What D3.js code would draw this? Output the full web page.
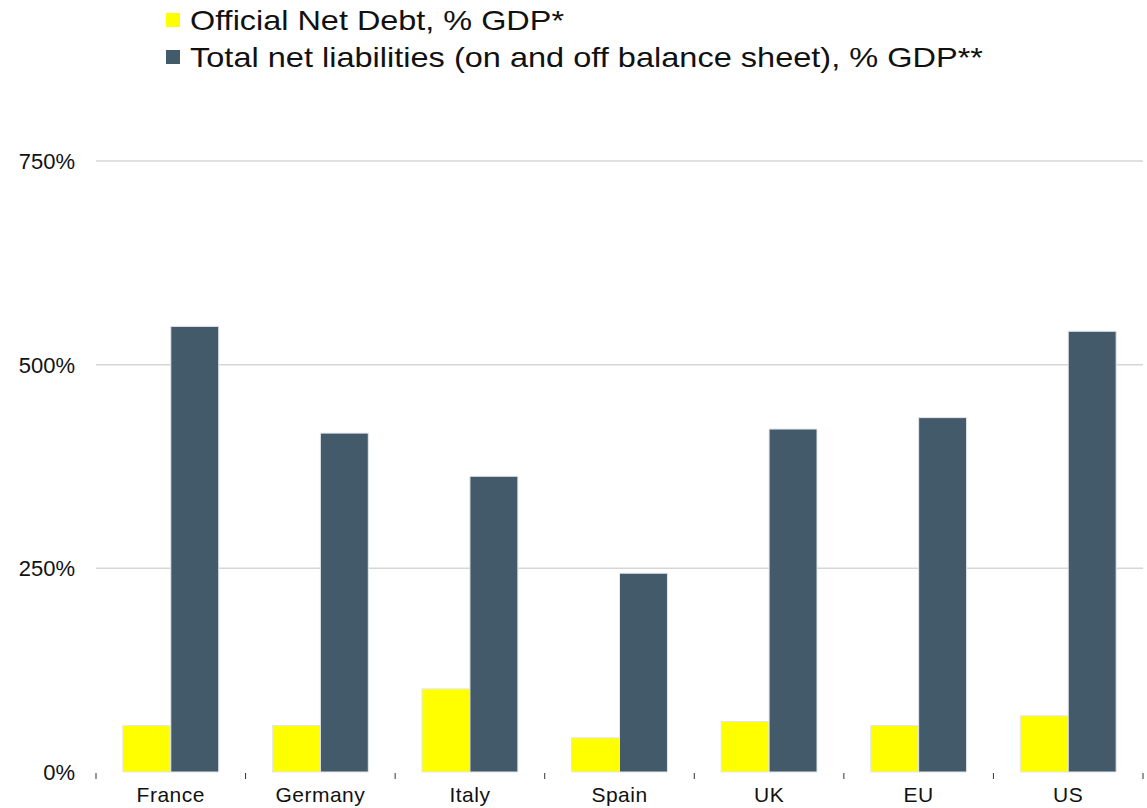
<!DOCTYPE html>
<html>
<head>
<meta charset="utf-8">
<script src="https://cdnjs.cloudflare.com/ajax/libs/d3/7.8.5/d3.min.js"></script>
<style>
  body { margin: 0; background: #fff; }
  svg text { font-family: "Liberation Sans", Arial, sans-serif; fill: #111; }
</style>
</head>
<body>
<div id="chart"></div>
<script>
// data
var categories = ["France", "Germany", "Italy", "Spain", "UK", "EU", "US"];
var seriesNames = ["Official Net Debt, % GDP*", "Total net liabilities (on and off balance sheet), % GDP**"];
var officialDebt = [57, 57, 102, 42, 62, 57, 69];
var totalLiabilities = [547, 416, 363, 244, 421, 435, 541];
var yTicks = [0, 250, 500, 750];
var colors = ["#ffff00", "#435a6a"];

var width = 1147, height = 808;
var svg = d3.select("#chart").append("svg")
    .attr("width", width)
    .attr("height", height);

var x = d3.scaleBand()
    .domain(categories)
    .range([96, 1143]);

var sub = d3.scaleBand()
    .domain([0, 1])
    .range([0, x.bandwidth()])
    .paddingOuter(0.56);

var y = d3.scaleLinear()
    .domain([0, 750])
    .range([772, 161]);

// gridlines
svg.append("g")
    .selectAll("line")
    .data(yTicks.filter(function (d) { return d > 0; }))
    .enter()
    .append("line")
    .attr("x1", 96)
    .attr("x2", 1143)
    .attr("y1", function (d) { return y(d); })
    .attr("y2", function (d) { return y(d); })
    .attr("stroke", "#d6d6d6")
    .attr("stroke-width", 1.5);

// y labels
svg.append("g")
    .selectAll("text")
    .data(yTicks)
    .enter()
    .append("text")
    .attr("x", 75)
    .attr("y", function (d) { return y(d); })
    .attr("dy", "0.36em")
    .attr("text-anchor", "end")
    .style("font-size", "22px")
    .text(function (d) { return d + "%"; });

// bars
var rows = categories.map(function (c, i) {
    return { cat: c, values: [officialDebt[i], totalLiabilities[i]] };
});

var groups = svg.append("g")
    .selectAll("g")
    .data(rows)
    .enter()
    .append("g")
    .attr("transform", function (d) { return "translate(" + x(d.cat) + ",0)"; });

groups.selectAll("rect")
    .data(function (d) { return d.values; })
    .enter()
    .append("rect")
    .attr("x", function (d, i) { return sub(i); })
    .attr("y", function (d) { return y(d); })
    .attr("width", sub.bandwidth())
    .attr("height", function (d) { return y(0) - y(d); })
    .attr("fill", function (d, i) { return colors[i]; })
    .attr("stroke", "#e3e7ea")
    .attr("stroke-width", 1);

// x axis: ticks between categories, no line
var xAxis = d3.axisBottom(x).tickSize(0).tickPadding(15);
var ax = svg.append("g")
    .attr("transform", "translate(0,772)")
    .call(xAxis);
ax.select(".domain").remove();
ax.selectAll("text")
    .style("font-size", "21px")
    .style("font-family", "\"Liberation Sans\", Arial, sans-serif")
    .style("letter-spacing", "0.5px")
    .attr("fill", "#111");

svg.append("g")
    .selectAll("line")
    .data(d3.range(categories.length + 1))
    .enter()
    .append("line")
    .attr("x1", function (i) { return 96 + i * x.step(); })
    .attr("x2", function (i) { return 96 + i * x.step(); })
    .attr("y1", 773)
    .attr("y2", 779)
    .attr("stroke", "#333")
    .attr("stroke-width", 1);

// legend
var legend = svg.append("g");
var legendLen = [374, 793];
seriesNames.forEach(function (name, i) {
    var cy = 20 + i * 37;
    legend.append("rect")
        .attr("x", 166)
        .attr("y", cy - 7)
        .attr("width", 14)
        .attr("height", 14)
        .attr("fill", colors[i]);
    legend.append("text")
        .attr("x", 190)
        .attr("y", cy)
        .attr("dy", "0.36em")
        .style("font-size", "28px")
        .attr("textLength", legendLen[i])
        .attr("lengthAdjust", "spacingAndGlyphs")
        .text(name);
});
</script>
</body>
</html>
